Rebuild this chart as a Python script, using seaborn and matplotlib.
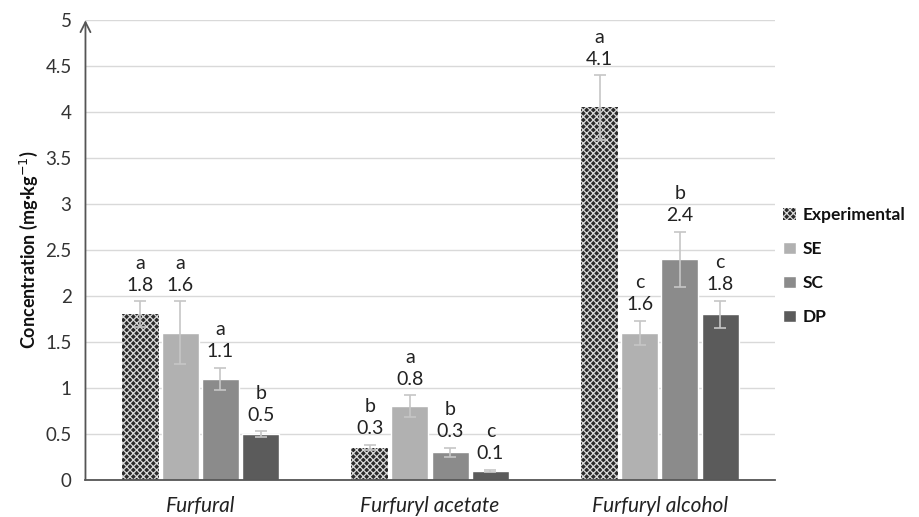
import numpy as np
import pandas as pd
import matplotlib.pyplot as plt
import seaborn as sns

compounds = ["Furfural", "Furfuryl acetate", "Furfuryl alcohol"]
methods = ["Experimental", "SE", "SC", "DP"]

# means per compound, in the order of methods
means = {
    "Experimental": [1.8, 0.35, 4.05],
    "SE": [1.6, 0.8, 1.6],
    "SC": [1.1, 0.3, 2.4],
    "DP": [0.5, 0.1, 1.8],
}
errors = {
    "Experimental": [0.14, 0.03, 0.35],
    "SE": [0.34, 0.12, 0.13],
    "SC": [0.12, 0.05, 0.3],
    "DP": [0.03, 0.01, 0.15],
}
value_labels = {
    "Experimental": ["1.8", "0.3", "4.1"],
    "SE": ["1.6", "0.8", "1.6"],
    "SC": ["1.1", "0.3", "2.4"],
    "DP": ["0.5", "0.1", "1.8"],
}
letters = {
    "Experimental": ["a", "b", "a"],
    "SE": ["a", "a", "c"],
    "SC": ["a", "b", "b"],
    "DP": ["b", "c", "c"],
}

rows = []
for m in methods:
    for i, c in enumerate(compounds):
        rows.append({"compound": c, "method": m, "value": means[m][i],
                     "err": errors[m][i], "lab": value_labels[m][i],
                     "letter": letters[m][i]})
df = pd.DataFrame(rows)

sns.set_theme(style="white")
plt.rcParams["font.family"] = ["Lato", "DejaVu Sans"]
plt.rcParams["hatch.linewidth"] = 0.9

palette = {"Experimental": "#2a2a2a", "SE": "#b1b1b1", "SC": "#8b8b8b", "DP": "#5b5b5b"}

fig, ax = plt.subplots(figsize=(9.19, 5.17), dpi=100)
fig.subplots_adjust(left=0.093, right=0.843, bottom=0.072, top=0.961)

sns.barplot(data=df, x="compound", y="value", hue="method", hue_order=methods,
            order=compounds, palette=palette, errorbar=None, width=0.7, gap=0.08,
            saturation=1, ax=ax, zorder=2)

# patches come out grouped by hue
for j, m in enumerate(methods):
    cont = ax.containers[j]
    sub = df[df["method"] == m].set_index("compound").loc[compounds]
    for bar, (_, r) in zip(cont, sub.iterrows()):
        x = bar.get_x() + bar.get_width() / 2
        h = bar.get_height()
        if m == "Experimental":
            bar.set_hatch("xxxxx")
            bar.set_edgecolor("#d8d8d8")
            bar.set_linewidth(0)
        ax.errorbar(x, h, yerr=r["err"], color="#c6c6c6", capsize=4.5,
                    elinewidth=1.2, capthick=1.2, zorder=3)
        top = h + r["err"]
        ax.text(x, top + 0.08, r["lab"], ha="center", va="bottom", fontsize=14,
                color="#222222")
        ax.text(x, top + 0.32, r["letter"], ha="center", va="bottom", fontsize=14,
                color="#222222")

ax.set_ylim(0, 5)
ax.set_xlim(-0.5, 2.5)
ax.set_yticks(np.arange(0, 5.01, 0.5))
ax.set_yticklabels(["0", "0.5", "1", "1.5", "2", "2.5", "3", "3.5", "4", "4.5", "5"],
                   fontsize=13.5, color="#333333")
ax.yaxis.grid(True, color="#d9d9d9", lw=1)
ax.set_axisbelow(True)
ax.tick_params(axis="y", length=0, pad=10)
ax.tick_params(axis="x", length=0, pad=12)
ax.set_xticks(range(len(compounds)))
ax.set_xticklabels(compounds, fontsize=15, style="italic", color="#222222")
ax.set_xlabel("")
ax.set_ylabel("Concentration (mg·kg$^{-1}$)", fontsize=13, fontweight="bold",
              color="#111111", labelpad=4)

for s in ["top", "right", "left"]:
    ax.spines[s].set_visible(False)
ax.spines["bottom"].set_color("#555555")
ax.spines["bottom"].set_linewidth(1.3)
ax.annotate("", xy=(0, 1.0), xytext=(0, 0), xycoords="axes fraction",
            arrowprops=dict(arrowstyle="->", color="#555555", lw=1.3,
                            mutation_scale=18, shrinkA=0, shrinkB=0))

handles, labels = ax.get_legend_handles_labels()
leg = ax.legend(handles, labels, loc="center left", bbox_to_anchor=(0.99, 0.465),
                frameon=False, handlelength=0.7, handleheight=0.7,
                labelspacing=1.05, handletextpad=0.4, fontsize=12.5)
for t in leg.get_texts():
    t.set_fontweight("bold")
    t.set_color("#111111")
leg.legend_handles[0].set_hatch("xxxxx")
leg.legend_handles[0].set_edgecolor("#d8d8d8")
leg.legend_handles[0].set_linewidth(0)

fig.savefig("out.png", dpi=100)
